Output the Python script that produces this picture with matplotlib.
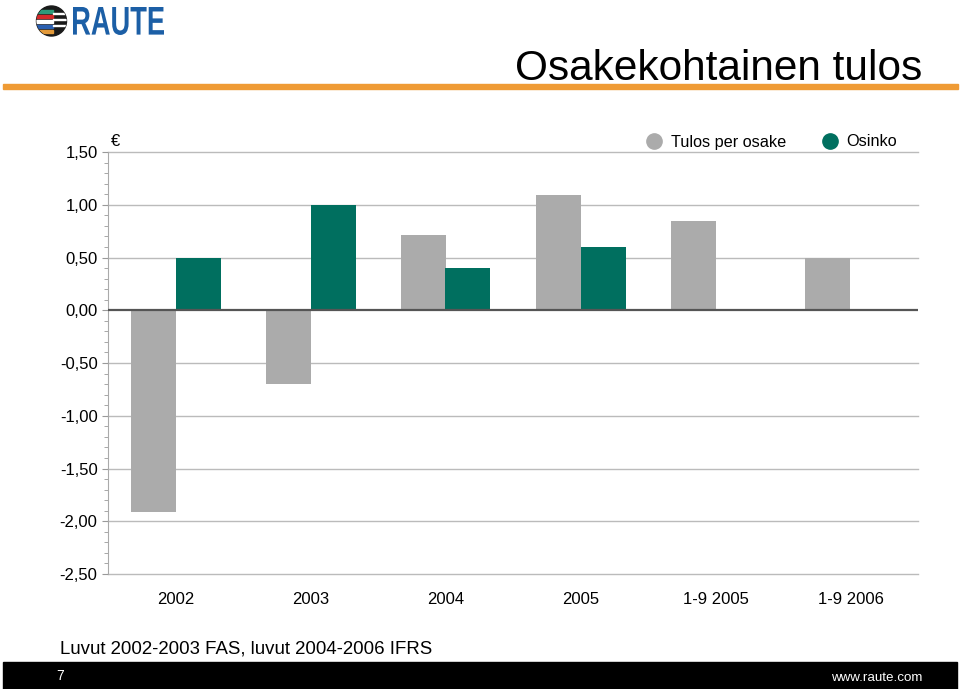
import numpy as np
import matplotlib
matplotlib.use("Agg")
import matplotlib.pyplot as plt
from matplotlib.patches import Circle, Rectangle, PathPatch
from matplotlib.lines import Line2D
from matplotlib.textpath import TextPath
from matplotlib.font_manager import FontProperties
from matplotlib.transforms import Affine2D

plt.rcParams['font.family'] = ['Liberation Sans', 'DejaVu Sans']

# data
categories = ["2002", "2003", "2004", "2005", "1-9 2005", "1-9 2006"]
eps = [-1.91, -0.70, 0.71, 1.09, 0.85, 0.50]          # Tulos per osake
dividend = [0.50, 1.00, 0.40, 0.60, None, None]       # Osinko
yticks = [1.5, 1.0, 0.5, 0.0, -0.5, -1.0, -1.5, -2.0, -2.5]

gray = "#ababab"
green = "#006f5f"

fig = plt.figure(figsize=(9.6, 6.89), dpi=100)
ax = fig.add_axes([108/960, 115/689, 810/960, 422/689])

x = np.arange(len(categories))
w = 1/3
ax.bar(x - w/2, eps, width=w, color=gray, zorder=3)
div_x = [xi + w/2 for xi, d in zip(x, dividend) if d is not None]
div_v = [d for d in dividend if d is not None]
ax.bar(div_x, div_v, width=w, color=green, zorder=3)

ax.set_xlim(-0.5, 5.5)
ax.set_ylim(-2.5, 1.5)
ax.set_yticks(yticks)
ax.set_yticklabels([f"{t:.2f}".replace(".", ",") for t in yticks], fontsize=12)
ax.set_yticks(np.arange(-2.5, 1.51, 0.1), minor=True)
ax.set_xticks(x)
ax.set_xticklabels(categories, fontsize=12)
ax.tick_params(axis="x", length=0, pad=13)
ax.tick_params(axis="y", which="major", length=4, color="#999999", pad=3.5)
ax.tick_params(axis="y", which="minor", length=3, color="#999999")

for t in yticks:
    if t != 0:
        ax.axhline(t, color="#bbbbbb", lw=1, zorder=1, clip_on=False)
ax.axhline(0, color="#555555", lw=1.6, zorder=4)

for s in ["top", "right", "bottom"]:
    ax.spines[s].set_visible(False)
ax.spines["left"].set_color("#aaaaaa")

fig.text(111/960, 1 - 142/689, "€", fontsize=12, va="center", ha="left")

# legend
fig.add_artist(Line2D([654/960], [1 - 141/689], marker="o", markersize=11,
                      color=gray, linestyle="none"))
fig.text(671/960, 1 - 142/689, "Tulos per osake", fontsize=11.7, va="center")
fig.add_artist(Line2D([830/960], [1 - 141/689], marker="o", markersize=11,
                      color=green, linestyle="none"))
fig.text(846/960, 1 - 142/689, "Osinko", fontsize=11.7, va="center")

# title and header
fig.text(922/960, 1 - 69/689, "Osakekohtainen tulos", fontsize=30.5,
         ha="right", va="center")
fig.add_artist(Rectangle((3/960, 1 - 89/689), 955/960, 5/689,
                         transform=fig.transFigure, color="#ef9b35"))

# logo
logo = Circle((51.5, 689 - 21), 15, transform=None, color="#1a1a1a")
fig.add_artist(logo)
stripe_cols = ["#2e9a7a", "#d42a2a", "#ffffff", "#2a5fb0", "#e39a3a"]
for i, c in enumerate(stripe_cols):
    st = Rectangle((35, 689 - 13 - i*5), 18, 3.5, transform=None, color=c)
    fig.add_artist(st)
    st.set_clip_path(logo)
for i in range(3):
    arc = Rectangle((53, 689 - 14 - i*6), 14, 1.5, transform=None,
                    color="white")
    fig.add_artist(arc)
    arc.set_clip_path(logo)

tp = TextPath((0, 0), "RAUTE", size=20,
              prop=FontProperties(family="Liberation Sans", weight="bold"))
ext = tp.get_extents()
tr = (Affine2D().translate(-ext.x0, -ext.y0)
      .scale(91 / ext.width, 28 / ext.height)
      .translate(73, 689 - 35))
fig.add_artist(PathPatch(tr.transform_path(tp), transform=None,
                         color="#1c5fa6", lw=0))

# footer
fig.text(60/960, 1 - 649/689, "Luvut 2002-2003 FAS, luvut 2004-2006 IFRS",
         fontsize=13.4, va="center")
fig.add_artist(Rectangle((3/960, 0), 954/960, 27/689,
                         transform=fig.transFigure, color="black"))
fig.text(56/960, 1 - 676/689, "7", fontsize=10, color="white", va="center")
fig.text(922/960, 1 - 678/689, "www.raute.com", fontsize=9.6, color="white",
         va="center", ha="right")

fig.savefig("out.png", dpi=100)
